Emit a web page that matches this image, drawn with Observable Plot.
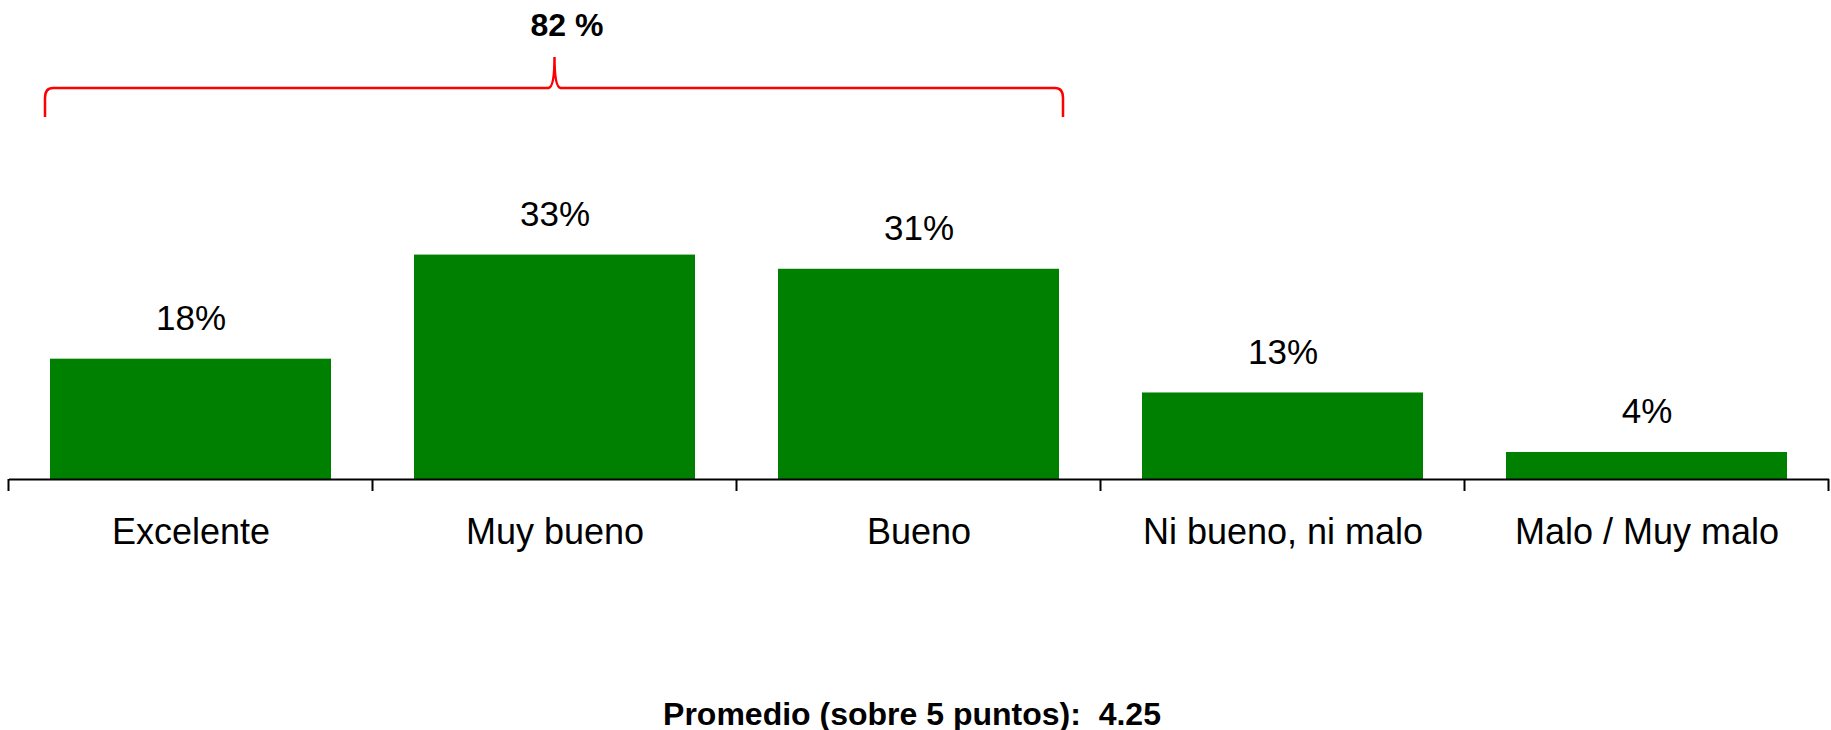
<!DOCTYPE html>
<html>
<head>
<meta charset="utf-8">
<script src="https://cdn.jsdelivr.net/npm/d3@7"></script>
<script src="https://cdn.jsdelivr.net/npm/@observablehq/plot@0.6"></script>
<style>
  html, body { margin: 0; padding: 0; background: #fff; }
  body { width: 1831px; font-family: "Liberation Sans", Arial, sans-serif; }
  #caption {
    width: 1824px; padding-right: 7px; height: 36px; line-height: 40px;
    text-align: center; font-weight: bold; font-size: 32px; color: #000;
    white-space: pre;
  }
</style>
</head>
<body>
<div id="chart"></div>
<div id="caption"></div>
<script>
// ---- data ----
const categories = ["Excelente", "Muy bueno", "Bueno", "Ni bueno, ni malo", "Malo / Muy malo"];
const values = [17.8, 33.2, 31.1, 12.8, 4.0];
const bracketCategories = ["Excelente", "Muy bueno", "Bueno"];
const bracketCenterCategory = "Muy bueno";
const captionText = "Promedio (sobre 5 puntos):  4.25";

const data = categories.map((c, i) => ({cat: c, value: values[i]}));
const bracketTotal = Math.round(d3.sum(data.filter(d => bracketCategories.includes(d.cat)), d => d.value));

const green = "#008000";
const red = "#ff0000";

// custom mark: category boundary ticks + red bracket
function decorations(index, scales, values, dimensions) {
  const x = scales.x, y = scales.y;
  const c0 = x(categories[0]), c1 = x(categories[1]);
  const step = (x.step ? x.step() : (c1 - c0));
  const bw = (x.bandwidth ? x.bandwidth() : step * (1 - 0.228));
  const gap = (step - bw) / 2;
  const g = d3.create("svg:g");
  const y0 = y(0);
  // ticks at band boundaries
  const bounds = categories.map(c => x(c) - gap).concat([x(categories[categories.length - 1]) + bw + gap]);
  g.selectAll("line").data(bounds).join("line")
    .attr("x1", d => d).attr("x2", d => d)
    .attr("y1", y0).attr("y2", y0 + 12)
    .attr("stroke", "#000").attr("stroke-width", 2);
  // bracket
  const left = x(bracketCategories[0]) - 5;
  const right = x(bracketCategories[bracketCategories.length - 1]) + bw + 4;
  const peak = x(bracketCenterCategory) + bw / 2;
  const top = dimensions.marginTop;
  const lineY = top + 88, peakY = top + 57, endY = top + 117;
  const p = d3.path();
  p.moveTo(left, endY);
  p.lineTo(left, lineY + 10);
  p.quadraticCurveTo(left, lineY, left + 8, lineY);
  p.lineTo(peak - 6, lineY);
  p.quadraticCurveTo(peak, lineY - 1, peak, peakY);
  p.quadraticCurveTo(peak, lineY - 1, peak + 6, lineY);
  p.lineTo(right - 8, lineY);
  p.quadraticCurveTo(right, lineY, right, lineY + 10);
  p.lineTo(right, endY);
  g.append("path").attr("d", p.toString())
    .attr("fill", "none").attr("stroke", red).attr("stroke-width", 2.5);
  return g.node();
}

const chart = Plot.plot({
  width: 1831,
  height: 694,
  marginLeft: 9,
  marginRight: 2,
  marginTop: 0,
  marginBottom: 215,
  style: {fontFamily: "'Liberation Sans', Arial, sans-serif", fontSize: "35px", background: "#fff", color: "#000"},
  x: {domain: categories, paddingInner: 0.228, paddingOuter: 0.114, label: null},
  y: {domain: [0, 70.86], axis: null},
  marks: [
    Plot.barY(data, {x: "cat", y: "value", fill: green}),
    Plot.ruleY([0], {stroke: "#000", strokeWidth: 2}),
    Plot.axisX({tickSize: 0, tickPadding: 39, fontSize: 36, label: null}),
    Plot.text(data, {x: "cat", y: "value", text: d => Math.round(d.value) + "%", dy: -29, lineAnchor: "bottom", fontSize: 35, fill: "#000"}),
    Plot.text([bracketTotal], {x: () => bracketCenterCategory, text: d => d + " %", frameAnchor: "top", dy: 35, dx: 12, lineAnchor: "bottom", fontWeight: "bold", fontSize: 32, fill: "#000"}),
    decorations
  ]
});
document.getElementById("chart").appendChild(chart);
document.getElementById("caption").textContent = captionText;
</script>
</body>
</html>
